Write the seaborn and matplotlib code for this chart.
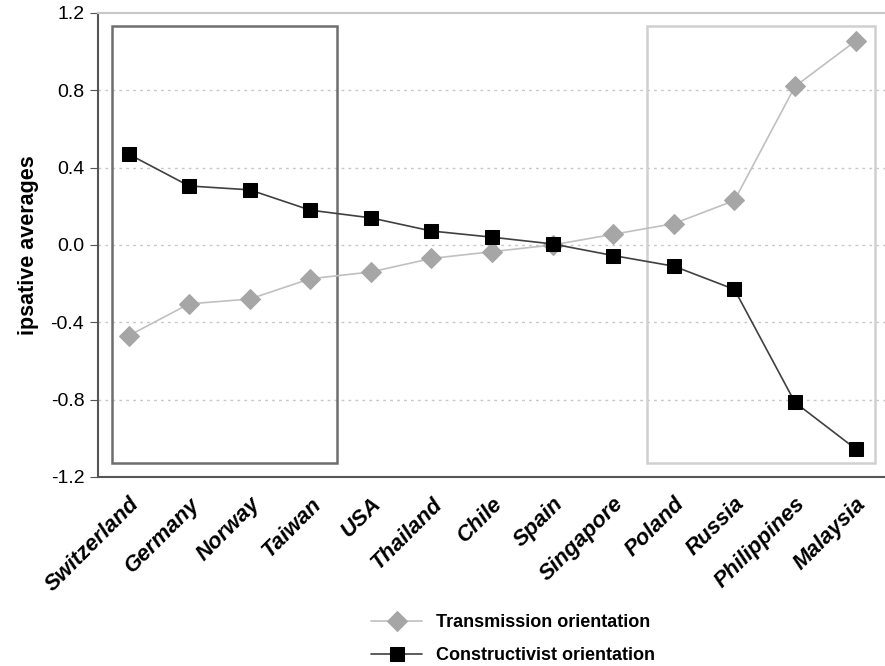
import numpy as np
import pandas as pd
import matplotlib
matplotlib.use("Agg")
import matplotlib.pyplot as plt
import matplotlib.patches as mpatches
import seaborn as sns

# data
countries = ["Switzerland", "Germany", "Norway", "Taiwan", "USA", "Thailand", "Chile",
             "Spain", "Singapore", "Poland", "Russia", "Philippines", "Malaysia"]
transmission = [-0.47, -0.305, -0.28, -0.175, -0.14, -0.07, -0.035,
                0.0, 0.055, 0.11, 0.23, 0.82, 1.055]
constructivist = [0.47, 0.305, 0.285, 0.18, 0.14, 0.072, 0.04,
                  0.005, -0.055, -0.11, -0.23, -0.815, -1.055]
yticks = [-1.2, -0.8, -0.4, 0.0, 0.4, 0.8, 1.2]

sns.set_style("white")
plt.rcParams["font.family"] = ["Liberation Sans", "DejaVu Sans"]
plt.rcParams["text.color"] = "black"
plt.rcParams["axes.labelcolor"] = "black"
plt.rcParams["xtick.labelcolor"] = "black"
plt.rcParams["ytick.labelcolor"] = "black"

df = pd.DataFrame({"pos": np.arange(len(countries)),
                   "country": countries,
                   "Transmission orientation": transmission,
                   "Constructivist orientation": constructivist})

fig = plt.figure(figsize=(8.85, 6.66), dpi=100)
ax = fig.add_axes([0.111, 0.284, 0.89, 0.6965])

# dotted gridlines
for yv in yticks[1:-1]:
    ax.axhline(yv, color="#c8c8c8", linestyle=(0, (2, 3)), linewidth=1, zorder=0)

sns.lineplot(data=df, x="pos", y="Transmission orientation", ax=ax,
             color="#c0c0c0", linewidth=1.2, marker="D", markersize=10,
             markerfacecolor="#a6a6a6", markeredgecolor="#a6a6a6",
             label="Transmission orientation", zorder=3)
sns.lineplot(data=df, x="pos", y="Constructivist orientation", ax=ax,
             color="#404040", linewidth=1.2, marker="s", markersize=10,
             markerfacecolor="black", markeredgecolor="black",
             label="Constructivist orientation", zorder=4)

# highlight boxes
ax.add_patch(mpatches.Rectangle((-0.27, -1.128), 3.71, 2.261, fill=False,
                                edgecolor="#6e6e6e", linewidth=1.8, zorder=2))
ax.add_patch(mpatches.Rectangle((8.56, -1.128), 3.76, 2.261, fill=False,
                                edgecolor="#d0d0d0", linewidth=1.8, zorder=2))

ax.set_xlim(-0.5, len(countries) - 0.5)
ax.set_ylim(-1.2, 1.2)
ax.set_yticks(yticks)
ax.set_yticklabels([f"{v:.1f}" for v in yticks], fontsize=14)
ax.set_xticks(df["pos"])
ax.set_xticklabels(countries, rotation=45, ha="right", rotation_mode="anchor",
                   fontsize=16, fontweight="bold", fontstyle="italic")
ax.set_xticks(np.arange(len(countries) + 1) - 0.5, minor=True)
ax.tick_params(axis="x", which="major", length=0, pad=12)
ax.tick_params(axis="x", which="minor", length=6, color="#555555", direction="out")
ax.tick_params(axis="y", length=6, color="#555555", direction="out", left=True, pad=4)

ax.set_xlabel("")
ax.set_ylabel("ipsative averages", fontsize=15.5, fontweight="bold", labelpad=8)

for side in ["left", "bottom"]:
    ax.spines[side].set_color("#555555")
    ax.spines[side].set_linewidth(1.5)
ax.spines["top"].set_color("#c8c8c8")
ax.spines["top"].set_linewidth(1.5)
ax.spines["right"].set_visible(False)

ax.get_legend().remove()
handles, labels = ax.get_legend_handles_labels()
fig.legend(handles, labels, loc="center", bbox_to_anchor=(0.58, 0.04),
           frameon=False, handlelength=2.8, labelspacing=0.9,
           prop={"weight": "bold", "size": 13})

fig.savefig("out.png", dpi=100)
